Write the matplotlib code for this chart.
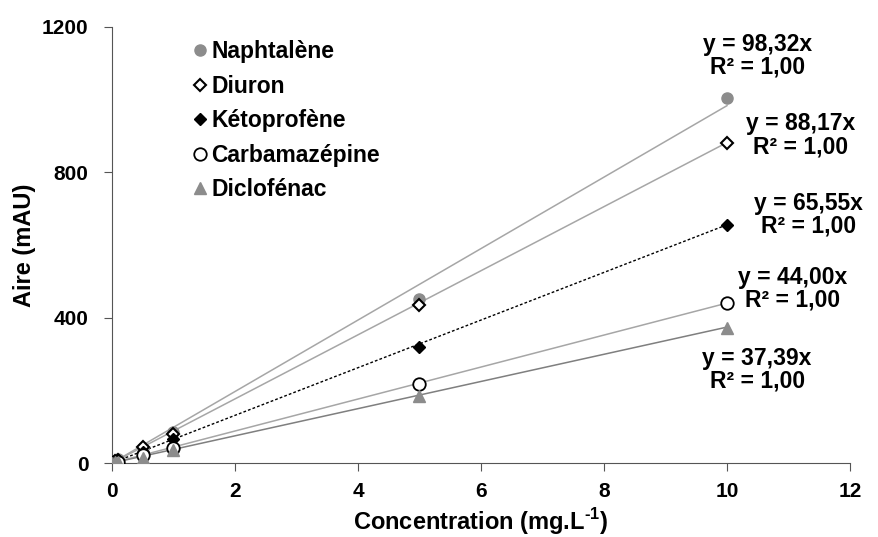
## calibration curves of the five compounds

import numpy as np
import matplotlib.pyplot as plt

plt.rcParams['font.family'] = ['Liberation Sans', 'DejaVu Sans']
plt.rcParams['font.weight'] = 'bold'
plt.rcParams['mathtext.fontset'] = 'custom'
plt.rcParams['mathtext.bf'] = 'Liberation Sans:bold'
plt.rcParams['mathtext.rm'] = 'Liberation Sans:bold'

# concentrations (mg/L) and peak areas (mAU)
conc = [0.0, 0.05, 0.1, 0.5, 1.0, 5.0, 10.0]
naphtalene = [0, 5, 10, 42, 85, 452, 1005]
diuron = [0, 5, 9, 44, 80, 436, 880]
ketoprofene = [0, 3, 7, 30, 65, 320, 655]
carbamazepine = [0, 2, 4, 22, 42, 216, 440]
diclofenac = [0, 2, 4, 15, 35, 183, 372]

names = ['Naphtalène', 'Diuron', 'Kétoprofène', 'Carbamazépine', 'Diclofénac']
slopes = [98.32, 88.17, 65.55, 44.00, 37.39]
eq_labels = ['y = 98,32x\nR² = 1,00', 'y = 88,17x\nR² = 1,00', 'y = 65,55x\nR² = 1,00',
             'y = 44,00x\nR² = 1,00', 'y = 37,39x\nR² = 1,00']
eq_pos = [(10.49, 1120), (11.19, 902), (11.32, 683), (11.07, 480), (10.49, 257)]

fig = plt.figure(figsize=(8.79, 5.37), dpi=100)
ax = fig.add_axes([0.1274, 0.1378, 0.8396, 0.8122])

series = [naphtalene, diuron, ketoprofene, carbamazepine, diclofenac]
markers = [
    dict(marker='o', ms=8, mfc='#8c8c8c', mec='#8c8c8c'),
    dict(marker='D', ms=6.5, mfc='white', mec='black', mew=1.5),
    dict(marker='D', ms=6.5, mfc='black', mec='black'),
    dict(marker='o', ms=9, mfc='white', mec='black', mew=1.3),
    dict(marker='^', ms=8, mfc='#8c8c8c', mec='#8c8c8c'),
]
line_styles = [
    dict(color='#a6a6a6', lw=1.1, ls='-'),
    dict(color='#a6a6a6', lw=1.1, ls='-'),
    dict(color='black', lw=1.0, ls=(0, (2, 1.5))),
    dict(color='#a6a6a6', lw=1.1, ls='-'),
    dict(color='#7f7f7f', lw=1.1, ls='-'),
]

xfit = np.array([0, 10])
for vals, name, k, m, ls in zip(series, names, slopes, markers, line_styles):
    ax.plot(xfit, k * xfit, zorder=2, **ls)
    ax.plot(conc, vals, ls='none', label=name, zorder=3, **m)

for txt, (x, y) in zip(eq_labels, eq_pos):
    ax.text(x, y, txt, ha='center', va='center', fontsize=16.5, fontweight='bold',
            linespacing=1.0)

ax.set_xlim(0, 12)
ax.set_ylim(0, 1200)
ax.set_xticks(range(0, 13, 2))
ax.set_yticks([0, 400, 800, 1200])
ax.spines['top'].set_visible(False)
ax.spines['right'].set_visible(False)
ax.spines['left'].set_color('#555555')
ax.spines['bottom'].set_color('#555555')
ax.tick_params(labelsize=15, color='#555555', length=6, direction='out')
ax.tick_params(axis='y', pad=11)
ax.tick_params(axis='x', pad=8)
for lab in ax.get_xticklabels() + ax.get_yticklabels():
    lab.set_fontweight('bold')

ax.set_xlabel('Concentration (mg.L$^{\\mathbf{\u2010}\\mathbf{1}}$)', fontsize=17,
              fontweight='bold', labelpad=3)
ax.set_ylabel('Aire (mAU)', fontsize=17, fontweight='bold', labelpad=4)

ax.legend(loc='upper left', bbox_to_anchor=(0.097, 0.99), frameon=False, fontsize=16.5,
          handlelength=0.6, handletextpad=0.2, labelspacing=0.5, borderaxespad=0)

fig.savefig('out.png', dpi=100)
